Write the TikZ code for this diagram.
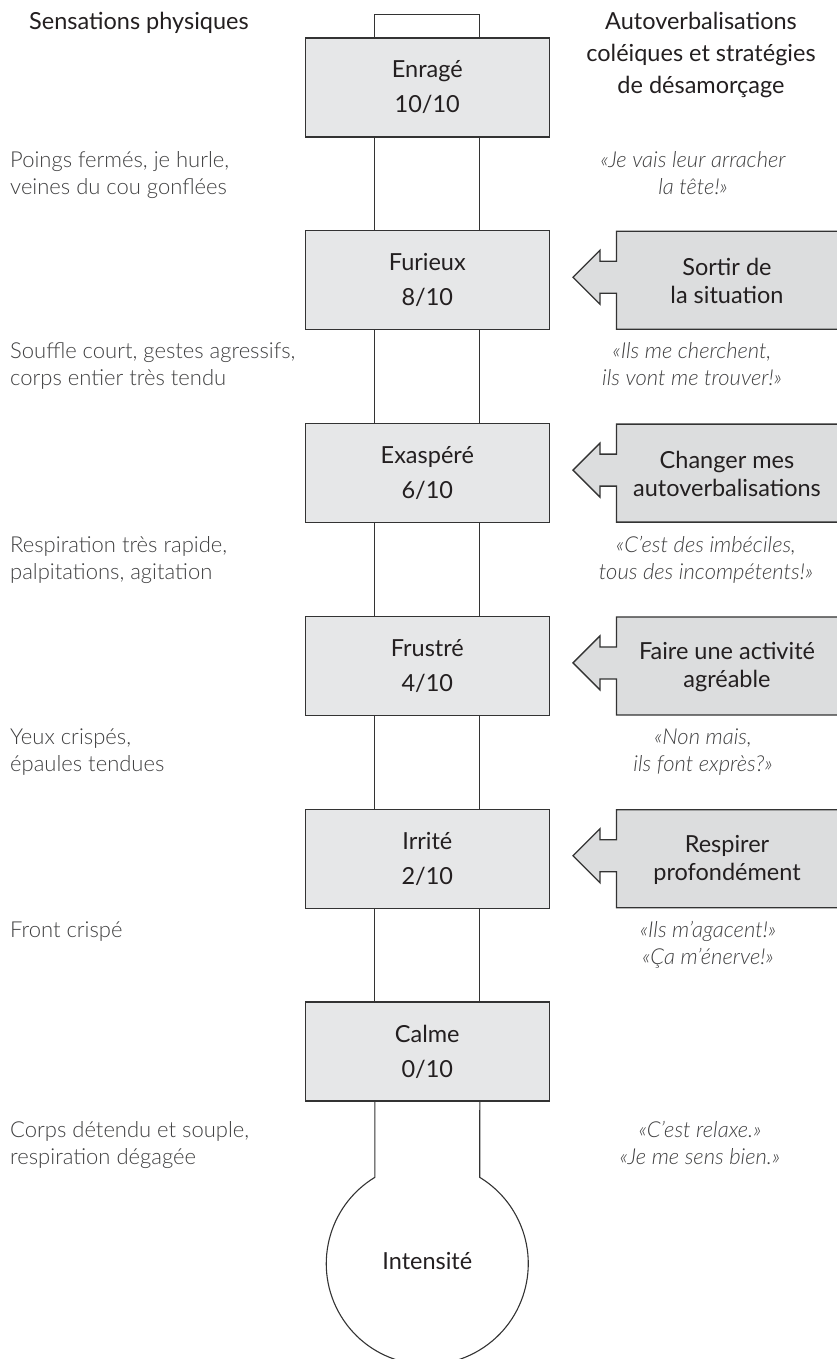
\documentclass[tikz,border=0pt]{standalone}
\usepackage{fontspec}
\setmainfont{Lato}
\newfontfamily\lightfont{Lato Light}[ItalicFont={Lato Light Italic}]
\usetikzlibrary{calc}
\definecolor{ink}{HTML}{231F20}
\definecolor{soft}{HTML}{3F3F40}
\definecolor{boxfill}{HTML}{E6E7E8}
\definecolor{tipfill}{HTML}{DCDDDE}
\definecolor{edge}{HTML}{333333}

% strategy box with a left-pointing arrow: #1 name, #2 vertical centre, #3 text
\newcommand\strategy[3]{%
  \path[tipshape] ({845},{#2-49}) -- ({616.5},{#2-49}) -- ({616.5},{#2-19})
    -- ({600},{#2-19}) -- ({600},{#2-30}) -- ({573},{#2-3}) -- ({600},{#2+24})
    -- ({600},{#2+13}) -- ({616.5},{#2+13}) -- ({616.5},{#2+49}) -- ({845},{#2+49});
  \node[tiptext] (#1) at ({727},{#2+1}) {#3};}

\begin{document}
\begin{tikzpicture}[x=1pt,y=-1pt,
  level/.style={draw=edge, line width=1.3pt, fill=boxfill, minimum width=244pt,
    minimum height=99pt, inner sep=0pt, align=center, text=ink,
    font=\fontsize{23.5}{35}\selectfont},
  tipshape/.style={draw=edge, line width=1.3pt, fill=tipfill, line join=miter},
  tiptext/.style={inner sep=0pt, align=center, text=ink,
    font=\fontsize{23.5}{28}\selectfont},
  header/.style={inner sep=0pt, align=center, text=ink,
    font=\fontsize{23.5}{32}\selectfont},
  feel/.style={inner sep=0pt, align=left, anchor=base west, text=soft,
    font=\lightfont\fontsize{22}{27.5}\selectfont},
  quote/.style={inner sep=0pt, align=center, anchor=base, text=soft,
    font=\lightfont\itshape\fontsize{22}{27.5}\selectfont},
  tube/.style={draw=edge, line width=1.1pt}]

\useasboundingbox (0,0) rectangle (837,1359);
\clip (0,0) rectangle (837,1359);

% column headers (a multi-line node sits on the baseline of its last line)
\node[header, anchor=base west] (hl) at (29,30) {Sensations physiques};
\node[header, anchor=base] (hr) at (701,94)
  {Autoverbalisations\\coléiques et stratégies\\de désamorçage};

% tube of the thermometer
\coordinate (tl) at (374.8,0);
\coordinate (tr) at (479.8,0);

% the six levels
\node[level] (b0) at (427.3,87.5)   {Enragé\\10/10};
\node[level] (b1) at (427.3,280.3)  {Furieux\\8/10};
\node[level] (b2) at (427.3,473.1)  {Exaspéré\\6/10};
\node[level] (b3) at (427.3,665.9)  {Frustré\\4/10};
\node[level] (b4) at (427.3,858.7)  {Irrité\\2/10};
\node[level] (b5) at (427.3,1051.5) {Calme\\0/10};

% top cap
\draw[tube] (b0.north -| tl) -- ++(0,-23) -| (b0.north -| tr);
% tube segments between the levels
\foreach \a/\b in {b0/b1,b1/b2,b2/b3,b3/b4,b4/b5}{
  \draw[tube] (\a.south -| tl) -- (\b.north -| tl);
  \draw[tube] (\a.south -| tr) -- (\b.north -| tr);
}
% bulb
\node[inner sep=0pt, text=ink, font=\fontsize{23.5}{28}\selectfont, anchor=base]
  (bulb) at (427.3,1269) {Intensité};
\draw[tube] (b5.south -| tl) -- ++(0,75.7)
  arc[start angle=238.7, end angle=-58.7, radius=101] -- (b5.south -| tr);

% strategies
\strategy{s1}{280.3}{Sortir de\\la situation}
\strategy{s2}{473.1}{Changer mes\\autoverbalisations}
\strategy{s3}{665.9}{Faire une activité\\agréable}
\strategy{s4}{858.7}{Respirer\\profondément}

% physical sensations
\node[feel] (f0) at (10,194.5)  {Poings fermés, je hurle,\\veines du cou gonflées};
\node[feel] (f1) at (10,385.5)  {Souffle court, gestes agressifs,\\corps entier très tendu};
\node[feel] (f2) at (10,579.5)  {Respiration très rapide,\\palpitations, agitation};
\node[feel] (f3) at (10,771.5)  {Yeux crispés,\\épaules tendues};
\node[feel] (f4) at (10,937)    {Front crispé};
\node[feel] (f5) at (10,1164.5) {Corps détendu et souple,\\respiration dégagée};

% angry self-talk
\node[quote] (q0) at (693,194.5)  {«Je vais leur arracher\\la tête!»};
\node[quote] (q1) at (692,385.5)  {«Ils me cherchent,\\ils vont me trouver!»};
\node[quote] (q2) at (706,579.5)  {«C’est des imbéciles,\\tous des incompétents!»};
\node[quote] (q3) at (703,771.5)  {«Non mais,\\ils font exprès?»};
\node[quote] (q4) at (708,964.5)  {«Ils m’agacent!»\\«Ça m’énerve!»};
\node[quote] (q5) at (700,1164.5) {«C’est relaxe.»\\«Je me sens bien.»};
\end{tikzpicture}
\end{document}
